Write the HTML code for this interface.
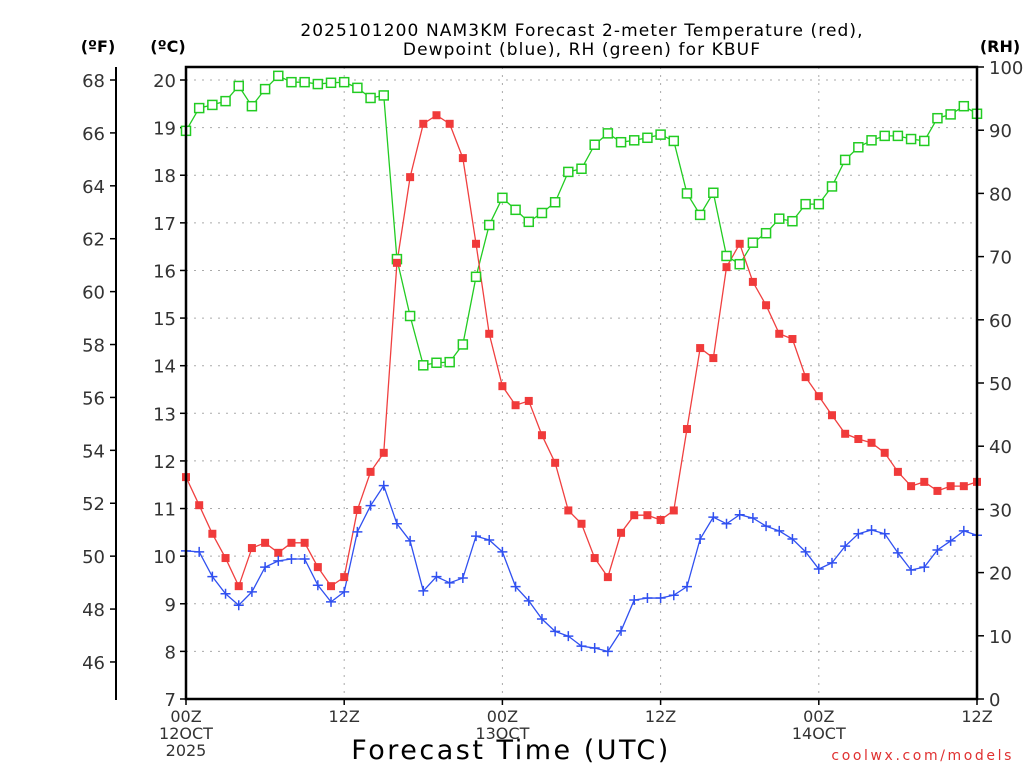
<!DOCTYPE html>
<html><head><meta charset="utf-8"><style>
body{margin:0;background:#fff;}
svg{display:block;font-family:"DejaVu Sans","Liberation Sans",sans-serif;}
</style></head><body>
<svg id="chart" width="1024" height="768" viewBox="0 0 1024 768" xmlns="http://www.w3.org/2000/svg">
<rect width="1024" height="768" fill="#fff"/>
<text x="582" y="36" font-size="17" letter-spacing="1.1" text-anchor="middle" fill="#000">2025101200 NAM3KM Forecast 2-meter Temperature (red),</text>
<text x="582" y="55" font-size="17" letter-spacing="1.1" text-anchor="middle" fill="#000">Dewpoint (blue), RH (green) for KBUF</text>
<text x="98" y="52" font-size="16" font-weight="bold" text-anchor="middle">(ºF)</text>
<text x="168" y="52" font-size="16" font-weight="bold" text-anchor="middle">(ºC)</text>
<text x="1000" y="52" font-size="16" font-weight="bold" text-anchor="middle">(RH)</text>
<text x="511" y="759" font-size="27" letter-spacing="2.5" text-anchor="middle">Forecast Time (UTC)</text>
<text x="1014" y="760" font-size="14" text-anchor="end" fill="#e03030" letter-spacing="2.6">coolwx.com/models</text>
<g id="grid"></g>
<g id="axes"></g>
<g id="series"></g>
<rect x="186" y="67" width="791" height="632" fill="none" stroke="#000" stroke-width="2.5"/>
</svg>
<script>
const hours = Array.from({length:61},(_,i)=>i);
const tempC = [11.66,11.07,10.47,9.96,9.37,10.17,10.28,10.07,10.28,10.28,9.77,9.37,9.56,10.97,11.77,12.17,
16.16,17.96,19.08,19.26,19.08,18.36,16.56,14.67,
13.57,13.17,13.26,12.54,11.96,10.96,10.68,9.96,9.56,10.49,10.86,10.86,10.76,10.96,12.67,14.37,14.16,
16.07,16.56,15.76,15.27,14.67,14.56,13.76,13.36,12.96,12.57,12.46,12.38,12.17,11.77,11.47,11.56,11.37,11.47,11.47,11.56];
const dewC = [10.11,10.09,9.57,9.21,8.97,9.25,9.77,9.90,9.94,9.94,9.39,9.04,9.25,10.51,11.06,11.48,
10.68,10.32,9.27,9.57,9.44,9.54,10.42,10.34,10.09,9.36,9.06,8.68,8.42,8.32,8.11,8.07,8.00,8.43,
9.08,9.12,9.12,9.18,9.36,10.36,10.82,10.68,10.87,10.80,10.63,10.53,10.36,10.09,9.73,9.86,10.21,
10.47,10.55,10.47,10.07,9.71,9.77,10.13,10.32,10.53,10.44];
const rh = [89.9,93.5,94.0,94.6,97.0,93.8,96.5,98.6,97.6,97.6,97.3,97.5,97.6,96.7,95.1,95.5,
69.6,60.6,52.8,53.2,53.3,56.1,66.8,75.0,79.3,77.4,75.5,76.9,78.6,83.4,83.9,87.7,89.5,88.1,88.4,88.8,89.3,88.3,
80.0,76.6,80.1,70.1,68.8,72.2,73.7,76.0,75.6,78.3,78.3,81.1,85.3,87.3,88.4,89.1,89.1,88.6,88.3,91.9,92.5,93.8,92.6];
const cTicks = [7,8,9,10,11,12,13,14,15,16,17,18,19,20];
const fTicks = [46,48,50,52,54,56,58,60,62,64,66,68];
const rhTicks = [0,10,20,30,40,50,60,70,80,90,100];
const xTickHours = [0,12,24,36,48,60];
const xTickLabels = [["00Z","12OCT","2025"],["12Z"],["00Z","13OCT"],["12Z"],["00Z","14OCT"],["12Z"]];

const X0=186,X1=977,Y0=67,Y1=699;
const xs = h => X0 + (h/60)*(X1-X0);
const yC = c => 699 - (c-7)*(699-80)/13;
const yF = f => yC((f-32)*5/9);
const yRH = r => Y1 - r/100*(Y1-Y0);
const NS="http://www.w3.org/2000/svg";
function mk(tag,attrs,parent){const e=document.createElementNS(NS,tag);for(const k in attrs)e.setAttribute(k,attrs[k]);parent.appendChild(e);return e;}
const grid=document.getElementById('grid'), axes=document.getElementById('axes'), ser=document.getElementById('series');

cTicks.forEach(c=>{
  const y=yC(c);
  const g=mk('line',{x1:X0,x2:X1,y1:y,y2:y,stroke:'#aaa','stroke-dasharray':'2,6'},grid);
  
  
  mk('line',{x1:180,x2:186,y1:y,y2:y,stroke:'#000','stroke-width':1.5},axes);
  const t=mk('text',{x:176,y:y+7,'font-size':18,'text-anchor':'end',fill:'#333'},axes);
  t.textContent=c;
  
  
});
mk('line',{x1:116,x2:116,y1:67,y2:700,stroke:'#000','stroke-width':2},axes);
fTicks.forEach(f=>{
  const y=yF(f);
  mk('line',{x1:110,x2:116,y1:y,y2:y,stroke:'#000','stroke-width':1.5},axes);
  const t=mk('text',{x:105,y:y+7,'font-size':18,'text-anchor':'end',fill:'#333'},axes);
  t.textContent=f;
  
  
});
rhTicks.forEach(r=>{
  const y=yRH(r);
  mk('line',{x1:977,x2:984,y1:y,y2:y,stroke:'#000','stroke-width':1.5},axes);
  const t=mk('text',{x:989,y:y+7,'font-size':18,'text-anchor':'start',fill:'#333'},axes);
  t.textContent=r;
  
  
});
xTickHours.forEach((h,i)=>{
  const x=xs(h);
  if(h>0&&h<60){
    const g=mk('line',{x1:x,x2:x,y1:Y0,y2:Y1,stroke:'#aaa','stroke-dasharray':'2,6'},grid);
    
    
  }
  mk('line',{x1:x,x2:x,y1:699,y2:705,stroke:'#000','stroke-width':1.5},axes);
  xTickLabels[i].forEach((s,j)=>{
    const t=mk('text',{x:x,y:722+j*17,'font-size':16,'text-anchor':'middle',fill:'#333'},axes);
    t.textContent=s;
    
    
  });
});

function line(vals,yf,color,name){
  const p=mk('polyline',{points:vals.map((v,i)=>xs(hours[i])+','+yf(v)).join(' '),fill:'none',stroke:color,'stroke-width':1.3},ser);
  
  
}
line(rh,yRH,'#22cc22','rh-line');
line(tempC,yC,'#f04040','temperature-line');
line(dewC,yC,'#3050f0','dewpoint-line');
rh.forEach((v,i)=>{
  const m=mk('rect',{x:xs(hours[i])-4.5,y:yRH(v)-4.5,width:9,height:9,fill:'#fff',stroke:'#22cc22','stroke-width':1.5},ser);
  
  
});
tempC.forEach((v,i)=>{
  const m=mk('rect',{x:xs(hours[i])-4,y:yC(v)-4,width:8,height:8,fill:'#f03a3a'},ser);
  
  
});
dewC.forEach((v,i)=>{
  const x=xs(hours[i]),y=yC(v);
  const m=mk('path',{d:`M${x-5} ${y}H${x+5}M${x} ${y-5}V${y+5}`,stroke:'#3050f0','stroke-width':1.5},ser);
  
  
});
</script>
</body></html>
